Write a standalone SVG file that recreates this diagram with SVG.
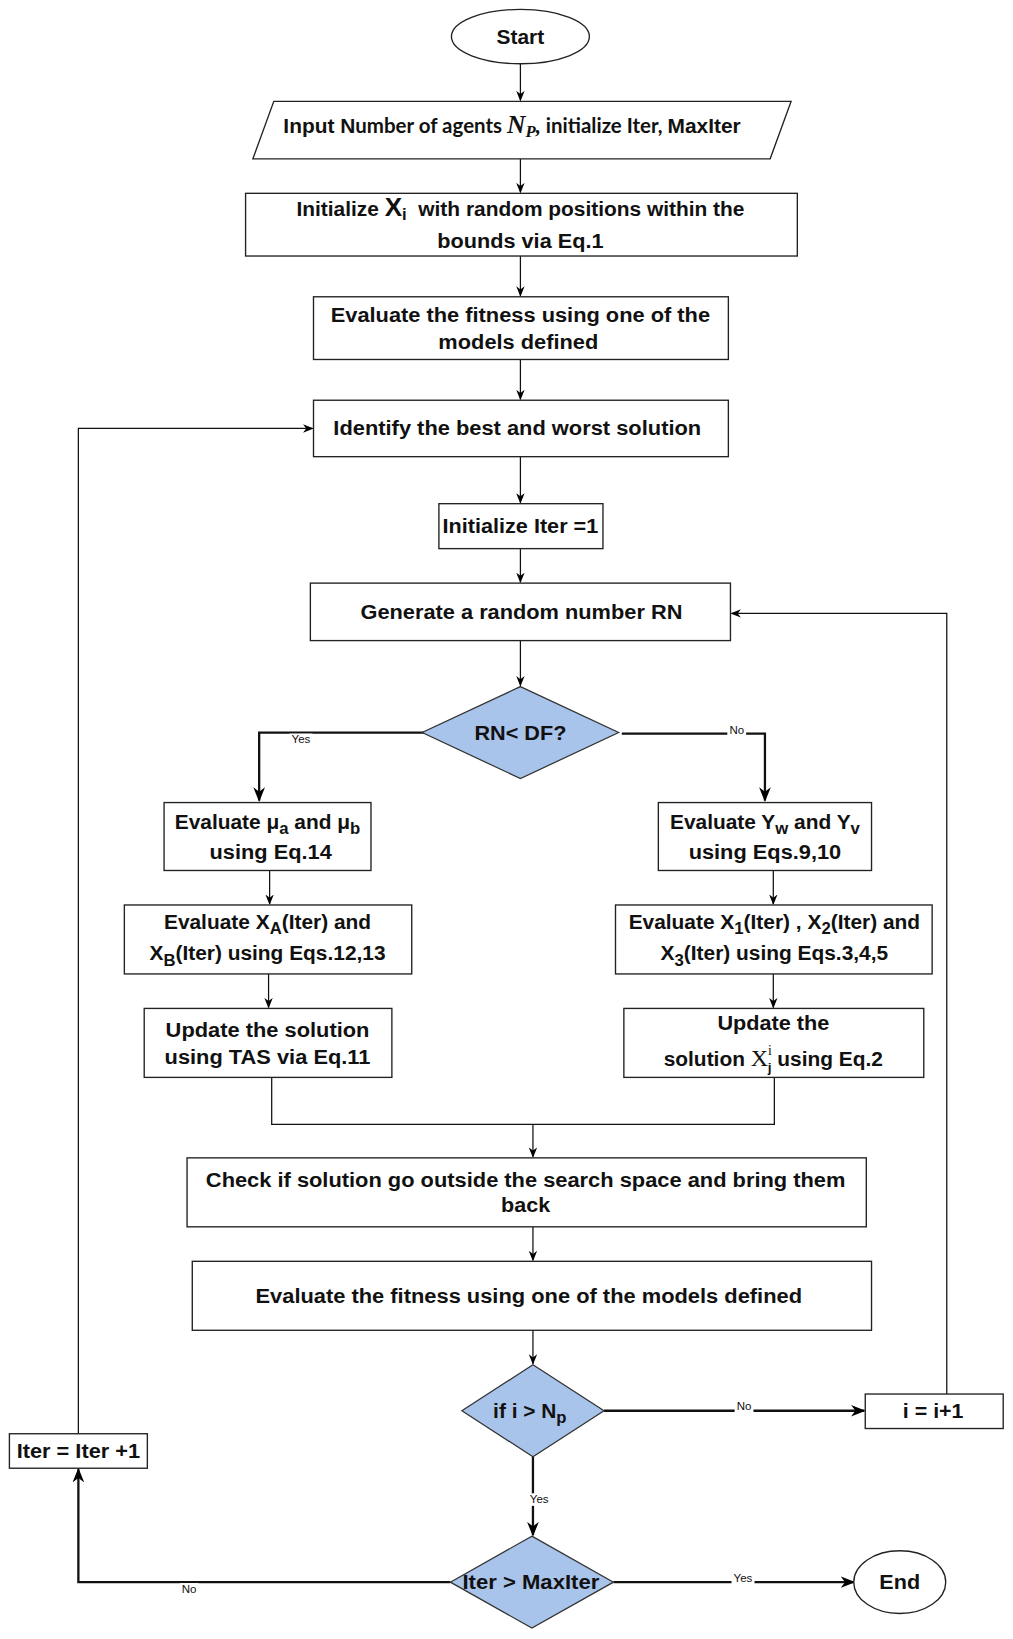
<svg xmlns="http://www.w3.org/2000/svg" width="1013" height="1639" viewBox="0 0 1013 1639">
<defs>
<marker id="a" markerUnits="userSpaceOnUse" markerWidth="10" markerHeight="10" viewBox="0 0 10 8" refX="9" refY="4" orient="auto"><path d="M0,0 L10,4 L0,8 L3,4 z" fill="#000"/></marker>
<marker id="b" markerUnits="userSpaceOnUse" markerWidth="14" markerHeight="14" viewBox="0 0 10 8" refX="9" refY="4" orient="auto"><path d="M0,0 L10,4 L0,8 L3,4 z" fill="#000"/></marker>
</defs>
<style>
.n{fill:#fff;stroke:#222;stroke-width:1.3}
.d{fill:#A9C4EB;stroke:#333;stroke-width:1.2}
.t{font-family:"Liberation Sans",Arial,sans-serif;font-weight:bold;font-size:20px;fill:#111;text-anchor:middle}
.c{fill:none;stroke:#111;stroke-width:1.2}
.k{fill:none;stroke:#111;stroke-width:2.2}
.l{font-family:"Liberation Sans",Arial,sans-serif;font-size:11px;fill:#111;text-anchor:middle}
.lb{fill:#fff}
.cal{font-family:Lato,"Open Sans",sans-serif;font-size:19.6px}
.mi{font-family:"Liberation Serif",serif;font-style:italic}
.ser{font-family:"Liberation Serif",serif;font-weight:normal}
</style>
<rect width="1013" height="1639" fill="#fff"/>
<g transform="scale(1.045)">
<g id="connectors">
<path class="c" d="M498,61 V96" marker-end="url(#a)"/>
<path class="c" d="M498,152 V184" marker-end="url(#a)"/>
<path class="c" d="M498,245 V283" marker-end="url(#a)"/>
<path class="c" d="M498,344 V382" marker-end="url(#a)"/>
<path class="c" d="M498,437 V481" marker-end="url(#a)"/>
<path class="c" d="M498,525 V557" marker-end="url(#a)"/>
<path class="c" d="M498,613 V656" marker-end="url(#a)"/>
<path class="k" d="M408,701 H248 V766" marker-end="url(#b)"/>
<path class="k" d="M595,702 H732 V766" marker-end="url(#b)"/>
<path class="c" d="M258,833 V865" marker-end="url(#a)"/>
<path class="c" d="M257,932 V964" marker-end="url(#a)"/>
<path class="c" d="M740,833 V865" marker-end="url(#a)"/>
<path class="c" d="M740,932 V964" marker-end="url(#a)"/>
<path class="c" d="M260,1031 V1076 H741 V1031"/>
<path class="c" d="M510,1076 V1107" marker-end="url(#a)"/>
<path class="c" d="M510,1174 V1206" marker-end="url(#a)"/>
<path class="c" d="M510,1273 V1305" marker-end="url(#a)"/>
<path class="k" d="M578,1350 H827" marker-end="url(#b)"/>
<path class="c" d="M906,1334 V587 H700" marker-end="url(#a)"/>
<path class="k" d="M510,1394 V1469" marker-end="url(#b)"/>
<path class="k" d="M587,1514 H817" marker-end="url(#b)"/>
<path class="k" d="M431,1514 H75 V1406" marker-end="url(#b)"/>
<path class="c" d="M75,1372 V410 H299" marker-end="url(#a)"/>
<rect class="lb" x="277" y="702" width="22" height="12"/>
<text class="l" x="288" y="711">Yes</text>
<rect class="lb" x="696" y="693" width="18" height="12"/>
<text class="l" x="705" y="702">No</text>
<rect class="lb" x="703" y="1340" width="18" height="12"/>
<text class="l" x="712" y="1349">No</text>
<rect class="lb" x="505" y="1429" width="22" height="12"/>
<text class="l" x="516" y="1438">Yes</text>
<rect class="lb" x="700" y="1505" width="22" height="12"/>
<text class="l" x="711" y="1514">Yes</text>
<rect class="lb" x="172" y="1515" width="18" height="12"/>
<text class="l" x="181" y="1524">No</text>
</g>
<g id="start"><ellipse class="n" cx="498" cy="35" rx="66" ry="26"/><text class="t" x="498" y="42">Start</text></g>
<g id="input"><polygon class="n" points="262,97 757,97 737,152 242,152"/>
<text class="t" x="490" y="127" font-size="22.3">Input N<tspan class="cal">umber of agents </tspan><tspan class="mi" font-size="24.4">N</tspan><tspan class="mi" font-size="16" dy="4">P</tspan><tspan class="mi" dy="-4">,</tspan><tspan class="cal"> initialize Iter, </tspan>MaxIter</text></g>
<g id="init"><rect class="n" x="235" y="185" width="528" height="60"/>
<text class="t" x="498" y="207" font-size="22">Initialize <tspan font-size="25">X</tspan><tspan font-size="16" dy="4">i</tspan><tspan dy="-4" xml:space="preserve">  with random positions within the</tspan></text>
<text class="t" x="498" y="237" textLength="159" lengthAdjust="spacingAndGlyphs">bounds via Eq.1</text></g>
<g id="eval1"><rect class="n" x="300" y="284" width="397" height="60"/>
<text class="t" x="498" y="308" textLength="363" lengthAdjust="spacingAndGlyphs">Evaluate the fitness using one of the</text>
<text class="t" x="496" y="334" textLength="153" lengthAdjust="spacingAndGlyphs">models defined</text></g>
<g id="identify"><rect class="n" x="300" y="383" width="397" height="54"/>
<text class="t" x="495" y="416" textLength="352" lengthAdjust="spacingAndGlyphs">Identify the best and worst solution</text></g>
<g id="iter1"><rect class="n" x="420" y="482" width="157" height="43"/>
<text class="t" x="498" y="510" textLength="149" lengthAdjust="spacingAndGlyphs">Initialize Iter =1</text></g>
<g id="generate"><rect class="n" x="297" y="558" width="402" height="55"/>
<text class="t" x="499" y="592" textLength="308" lengthAdjust="spacingAndGlyphs">Generate a random number RN</text></g>
<g id="rndf"><polygon class="d" points="498,657 592,701 498,745 404,701"/>
<text class="t" x="498" y="708" textLength="88" lengthAdjust="spacingAndGlyphs">RN&lt; DF?</text></g>
<g id="mu"><rect class="n" x="157" y="768" width="198" height="65"/>
<text class="t" x="256" y="793" font-size="22">Evaluate μ<tspan font-size="16" dy="5">a</tspan><tspan dy="-5"> and μ</tspan><tspan font-size="16" dy="5">b</tspan></text>
<text class="t" x="259" y="822" textLength="117" lengthAdjust="spacingAndGlyphs">using Eq.14</text></g>
<g id="xa"><rect class="n" x="119" y="866" width="275" height="66"/>
<text class="t" x="256" y="889" font-size="22">Evaluate X<tspan font-size="16" dy="5">A</tspan><tspan dy="-5">(Iter) and</tspan></text>
<text class="t" x="256" y="919" font-size="21.5">X<tspan font-size="16" dy="5">B</tspan><tspan dy="-5">(Iter) using Eqs.12,13</tspan></text></g>
<g id="tas"><rect class="n" x="138" y="965" width="237" height="66"/>
<text class="t" x="256" y="992" textLength="195" lengthAdjust="spacingAndGlyphs">Update the solution</text>
<text class="t" x="256" y="1018" textLength="197" lengthAdjust="spacingAndGlyphs">using TAS via Eq.11</text></g>
<g id="yw"><rect class="n" x="630" y="768" width="204" height="65"/>
<text class="t" x="732" y="793" font-size="22">Evaluate Y<tspan font-size="16" dy="5">w</tspan><tspan dy="-5"> and Y</tspan><tspan font-size="16" dy="5">v</tspan></text>
<text class="t" x="732" y="822" textLength="146" lengthAdjust="spacingAndGlyphs">using Eqs.9,10</text></g>
<g id="x1"><rect class="n" x="589" y="866" width="303" height="66"/>
<text class="t" x="741" y="889" font-size="22">Evaluate X<tspan font-size="16" dy="5">1</tspan><tspan dy="-5">(Iter) , X</tspan><tspan font-size="16" dy="5">2</tspan><tspan dy="-5">(Iter) and</tspan></text>
<text class="t" x="741" y="919" font-size="21.5">X<tspan font-size="16" dy="5">3</tspan><tspan dy="-5">(Iter) using Eqs.3,4,5</tspan></text></g>
<g id="upd2"><rect class="n" x="597" y="965" width="287" height="66"/>
<text class="t" x="740" y="986" textLength="107" lengthAdjust="spacingAndGlyphs">Update the</text>
<text class="t" x="740" y="1020" font-size="22.5">solution <tspan class="ser" font-size="23">X</tspan><tspan class="ser" font-size="13" dy="-10">i</tspan><tspan font-size="13" dx="-4" dy="16">j</tspan><tspan dy="-6"> using Eq.2</tspan></text></g>
<g id="check"><rect class="n" x="179" y="1108" width="650" height="66"/>
<text class="t" x="503" y="1136" textLength="612" lengthAdjust="spacingAndGlyphs">Check if solution go outside the search space and bring them</text>
<text class="t" x="503" y="1160" textLength="47" lengthAdjust="spacingAndGlyphs">back</text></g>
<g id="eval2"><rect class="n" x="184" y="1207" width="650" height="66"/>
<text class="t" x="506" y="1247" textLength="523" lengthAdjust="spacingAndGlyphs">Evaluate the fitness using one of the models defined</text></g>
<g id="ifnp"><polygon class="d" points="510,1306 578,1350 510,1394 442,1350"/>
<text class="t" x="507" y="1357" font-size="21">if i &gt; N<tspan font-size="16" dy="5">p</tspan></text></g>
<g id="inc"><rect class="n" x="828" y="1334" width="132" height="33"/>
<text class="t" x="893" y="1357" textLength="58" lengthAdjust="spacingAndGlyphs">i = i+1</text></g>
<g id="maxiter"><polygon class="d" points="509,1470 587,1514 509,1558 431,1514"/>
<text class="t" x="508" y="1521" textLength="131" lengthAdjust="spacingAndGlyphs">Iter &gt; MaxIter</text></g>
<g id="end"><ellipse class="n" cx="861" cy="1514" rx="44" ry="30"/>
<text class="t" x="861" y="1521" textLength="39" lengthAdjust="spacingAndGlyphs">End</text></g>
<g id="iterinc"><rect class="n" x="9" y="1372" width="132" height="33"/>
<text class="t" x="75" y="1395" textLength="118" lengthAdjust="spacingAndGlyphs">Iter = Iter +1</text></g>
</g>
</svg>
